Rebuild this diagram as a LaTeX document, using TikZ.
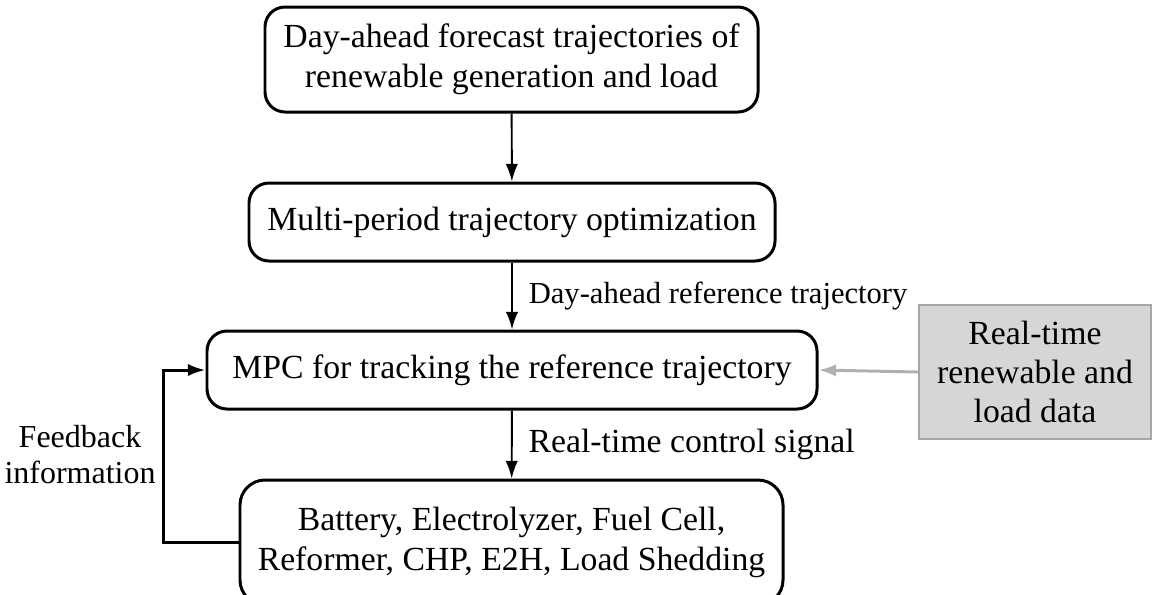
\documentclass[tikz,border=0pt]{standalone}
\usepackage{fontspec}
\setmainfont{Liberation Serif}
\usetikzlibrary{arrows.meta}
\definecolor{datagray}{HTML}{D6D6D6}
\definecolor{edgegray}{HTML}{A6A6A6}
\definecolor{arrgray}{HTML}{B0B0B0}

\begin{document}
\begin{tikzpicture}[>={Latex[length=10pt, width=7pt]},
    font=\fontsize{19.2}{23}\selectfont,
    blk/.style={draw, line width=1.7pt, rounded corners=0.4cm, align=center, inner sep=0pt},
    lbl/.style={right, xshift=0.2cm}]
                \useasboundingbox (0,0) rectangle (23.06,-11.88);
                \node(fcst_m) at(10.23, -1.19) [blk, minimum width=9.86cm, minimum height=2.1cm]  {Day-ahead forecast trajectories of\\renewable generation and load};
                \node(opt_m) at(10.24, -4.44) [blk, minimum width=10.52cm, minimum height=1.56cm]  {Multi-period trajectory optimization};
                \node(mpc_m) at(10.24, -7.4) [blk, minimum width=12.2cm, minimum height=1.56cm]  {MPC for tracking the reference trajectory};
                \node(dev_m) at(10.23, -10.85) [blk, rounded corners=0.5cm, minimum width=10.86cm, minimum height=2.5cm]  {Battery, Electrolyzer, Fuel Cell,\\Reformer, CHP, E2H, Load Shedding};
                \node(data_m) at(20.7, -7.44) [draw=edgegray, fill=datagray, line width=1.2pt, align=center, inner sep=0pt, minimum width=4.64cm, minimum height=2.68cm, font=\fontsize{19.2}{22.4}\selectfont] {Real-time\\renewable and\\load data};
                \node(fb_l) at(1.6, -9.1) [align=center, font=\fontsize{18.2}{20.5}\selectfont] {Feedback\\information};
                \draw[line width=1.1pt]
                    [->] (fcst_m) -- (opt_m);
                \draw[line width=1.1pt]
                    [->] (opt_m) -- node[lbl, font=\fontsize{17.4}{20}\selectfont] {Day-ahead reference trajectory} (mpc_m);
                \draw[line width=1.1pt]
                    [->] (mpc_m) -- node[lbl] {Real-time control signal} (dev_m);
                \draw[line width=1.7pt]
                    [->] (dev_m.west) -- ++(-1.5, 0) |- (mpc_m.west);
                \draw[line width=1.7pt, arrgray]
                    [->] (data_m.west) -- (mpc_m.east);
            \end{tikzpicture}
\end{document}
